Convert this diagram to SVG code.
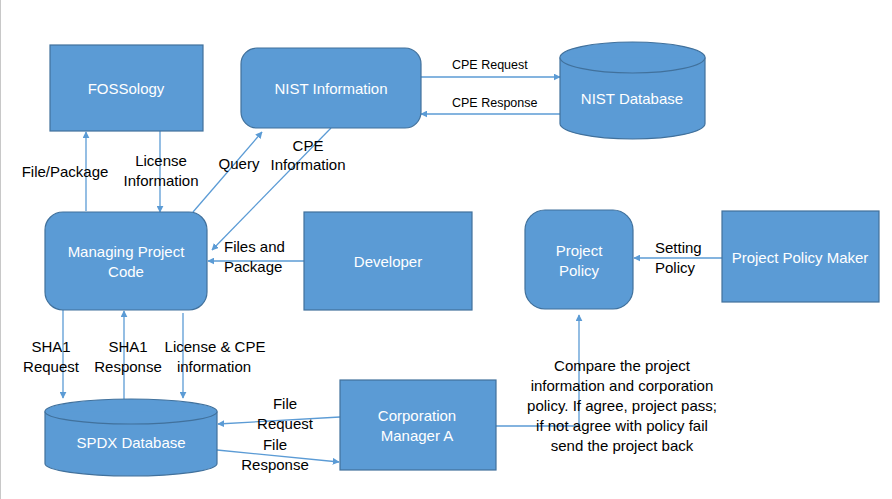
<svg xmlns="http://www.w3.org/2000/svg" width="892" height="499" viewBox="0 0 892 499">
<defs>
<style>
.node{fill:#5B9BD5;stroke:#41719C;stroke-width:1.2}
.nt{font-family:"Liberation Sans",Arial,sans-serif;font-size:15px;fill:#ffffff;text-anchor:middle}
.lt{font-family:"Liberation Sans",Arial,sans-serif;font-size:15px;fill:#000000;text-anchor:middle}
.ls{text-anchor:start}
.sm{font-size:12.5px}
.c{fill:none;stroke:#5B9BD5;stroke-width:1.3;marker-end:url(#ah)}
</style>
<marker id="ah" viewBox="0 0 10 10" refX="9" refY="5" markerWidth="7" markerHeight="7" markerUnits="userSpaceOnUse" orient="auto">
<path d="M0,0 L10,5 L0,10 z" fill="#5B9BD5"/>
</marker>
</defs>
<rect width="892" height="499" fill="#ffffff"/>
<line x1="0.5" y1="0" x2="0.5" y2="499" stroke="#c8c8c8" stroke-width="1"/>

<g id="connectors">
<line class="c" x1="421" y1="77" x2="560" y2="77"/>
<line class="c" x1="560" y1="114" x2="421" y2="114"/>
<line class="c" x1="86" y1="211" x2="86" y2="132"/>
<line class="c" x1="160" y1="131" x2="160" y2="212"/>
<line class="c" x1="193" y1="212" x2="262" y2="132"/>
<line class="c" x1="331" y1="128" x2="212" y2="250"/>
<line class="c" x1="304" y1="261" x2="208" y2="261"/>
<line class="c" x1="722" y1="258" x2="634" y2="258"/>
<polyline class="c" points="496,426 579,426 579,315"/>
<line class="c" x1="63" y1="310" x2="63" y2="398"/>
<line class="c" x1="124" y1="399" x2="124" y2="311"/>
<line class="c" x1="183" y1="313" x2="183" y2="398"/>
<line class="c" x1="340" y1="417" x2="218" y2="424"/>
<line class="c" x1="217" y1="450" x2="339" y2="462"/>
</g>

<g id="fossology">
<rect class="node" x="50" y="45" width="153" height="86"/>
<text class="nt" x="126" y="94">FOSSology</text>
</g>
<g id="nist-information">
<rect class="node" x="241" y="48" width="180" height="80" rx="16"/>
<text class="nt" x="331" y="94">NIST Information</text>
</g>
<g id="nist-database">
<path class="node" d="M560,57.5 A72.5,15.5 0 0 1 705,57.5 L705,123.5 A72.5,15.5 0 0 1 560,123.5 Z"/>
<path class="node" d="M560,57.5 A72.5,15.5 0 0 0 705,57.5" fill="none"/>
<text class="nt" x="632" y="104">NIST Database</text>
</g>
<g id="managing-project-code">
<rect class="node" x="45" y="212" width="162" height="98" rx="18"/>
<text class="nt" x="126" y="257">Managing Project</text>
<text class="nt" x="126" y="277">Code</text>
</g>
<g id="developer">
<rect class="node" x="304" y="212" width="168" height="98"/>
<text class="nt" x="388" y="267">Developer</text>
</g>
<g id="project-policy">
<rect class="node" x="525" y="210" width="108" height="99" rx="20"/>
<text class="nt" x="579" y="256">Project</text>
<text class="nt" x="579" y="276">Policy</text>
</g>
<g id="project-policy-maker">
<rect class="node" x="722" y="211" width="157" height="91"/>
<text class="nt" x="800" y="263">Project Policy Maker</text>
</g>
<g id="spdx-database">
<path class="node" d="M45,411.5 A86,12.5 0 0 1 217,411.5 L217,463.5 A86,12.5 0 0 1 45,463.5 Z"/>
<path class="node" d="M45,411.5 A86,12.5 0 0 0 217,411.5" fill="none"/>
<text class="nt" x="131" y="448">SPDX Database</text>
</g>
<g id="corporation-manager-a">
<rect class="node" x="340" y="380" width="156" height="90"/>
<text class="nt" x="417" y="421">Corporation</text>
<text class="nt" x="417" y="441">Manager A</text>
</g>

<g id="labels">
<text class="lt ls sm" x="452" y="69">CPE Request</text>
<text class="lt ls sm" x="452" y="107">CPE Response</text>
<text class="lt" x="65" y="177">File/Package</text>
<text class="lt" x="161" y="166">License</text>
<text class="lt" x="161" y="186">Information</text>
<text class="lt" x="239" y="169">Query</text>
<text class="lt" x="308" y="151">CPE</text>
<text class="lt" x="308" y="170">Information</text>
<text class="lt ls" x="224" y="252">Files and</text>
<text class="lt ls" x="224" y="272">Package</text>
<text class="lt ls" x="655" y="253">Setting</text>
<text class="lt ls" x="655" y="273">Policy</text>
<text class="lt" x="51" y="352">SHA1</text>
<text class="lt" x="51" y="372">Request</text>
<text class="lt" x="128" y="352">SHA1</text>
<text class="lt" x="128" y="372">Response</text>
<text class="lt" x="215" y="352">License &amp; CPE</text>
<text class="lt" x="214" y="372">information</text>
<text class="lt" x="285" y="409">File</text>
<text class="lt" x="285" y="429">Request</text>
<text class="lt" x="275" y="450">File</text>
<text class="lt" x="275" y="470">Response</text>
<text class="lt" x="622" y="371">Compare the project</text>
<text class="lt" x="622" y="391">information and corporation</text>
<text class="lt" x="622" y="411">policy. If agree, project pass;</text>
<text class="lt" x="622" y="431">if not agree with policy fail</text>
<text class="lt" x="622" y="451">send the project back</text>
</g>
</svg>
